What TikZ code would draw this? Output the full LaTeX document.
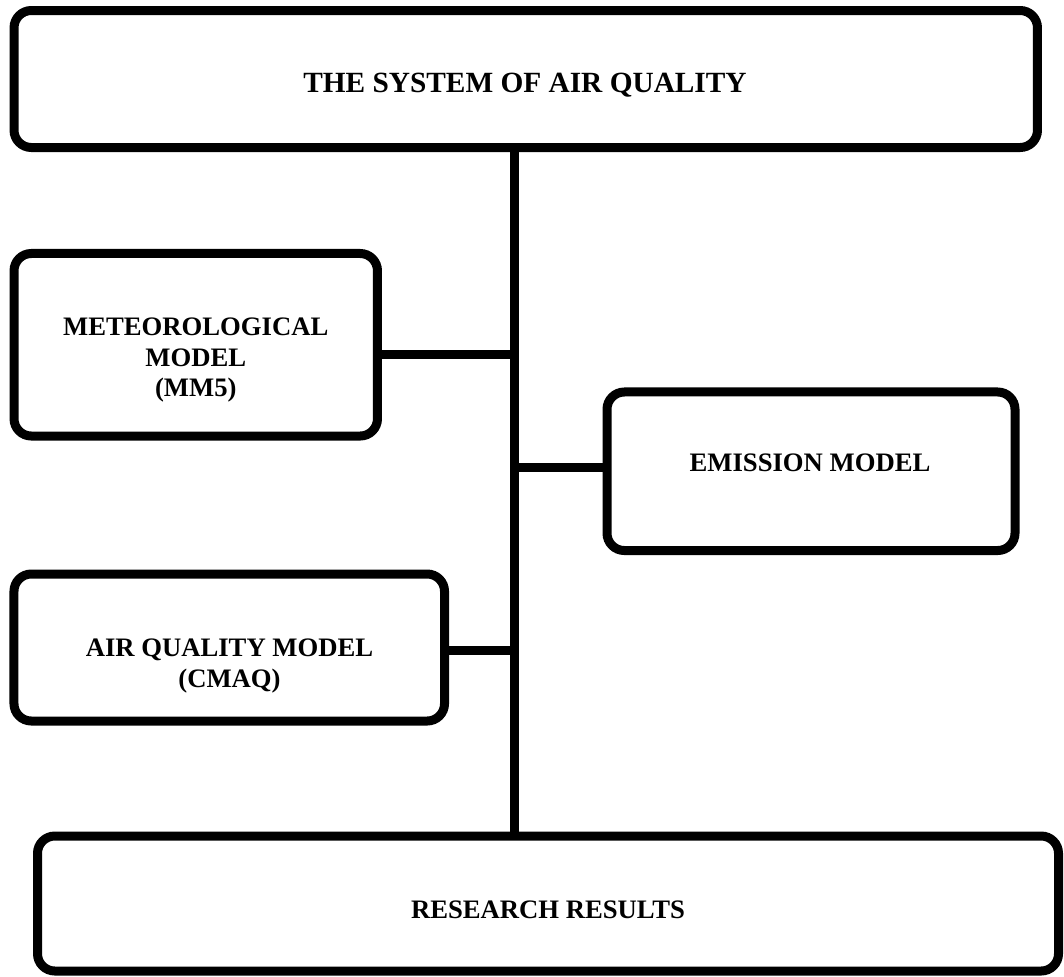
\documentclass[tikz,border=0pt]{standalone}
\usepackage{fontspec}
\setmainfont{Liberation Serif}
\begin{document}
\begin{tikzpicture}[x=0.75pt,y=-0.75pt,
  box/.style={draw=black, line width=6.75pt, rounded corners=13pt, fill=white, inner sep=0pt},
  link/.style={draw=black, line width=6.75pt},
  heading/.style={font=\fontsize{22}{26}\selectfont\bfseries, inner sep=0pt},
  caption/.style={font=\fontsize{20}{23}\selectfont\bfseries, inner sep=0pt, align=center}]
\useasboundingbox (0,0) rectangle (1064,976);

% boxes
\node[box, minimum width=767.6pt, minimum height=102.75pt] (top) at (525.75,79) {};
\node[box, minimum width=272.6pt, minimum height=136.9pt] (meteo) at (195.75,344.75) {};
\node[box, minimum width=306pt, minimum height=118.9pt] (emis) at (811,471.25) {};
\node[box, minimum width=322.9pt, minimum height=110.25pt] (aq) at (229.25,647.5) {};
\node[box, minimum width=765.75pt, minimum height=101.25pt] (res) at (548,903.5) {};

% labels
\node[heading, anchor=base] (top-txt) at (525,92) {THE SYSTEM OF AIR QUALITY};
\node[caption] (meteo-txt) at (195.75,360) {METEOROLOGICAL\\MODEL\\(MM5)};
\node[caption, anchor=base] (emis-txt) at (810,471) {EMISSION MODEL};
\node[caption] (aq-txt) at (229.5,666) {AIR QUALITY MODEL\\(CMAQ)};
\node[caption, anchor=base] (res-txt) at (548,918) {RESEARCH RESULTS};

% spine and branches
\coordinate (spine) at (514.5,0);
\coordinate (j1) at (514.5,354.5);
\coordinate (j2) at (514.5,467.5);
\coordinate (j3) at (514.5,650);
\draw[link] (top.south -| spine) -- (res.north -| spine);
\draw[link] (j1 -| meteo.east) -- (j1);
\draw[link] (j2) -- (j2 -| emis.west);
\draw[link] (j3 -| aq.east) -- (j3);
\end{tikzpicture}
\end{document}
